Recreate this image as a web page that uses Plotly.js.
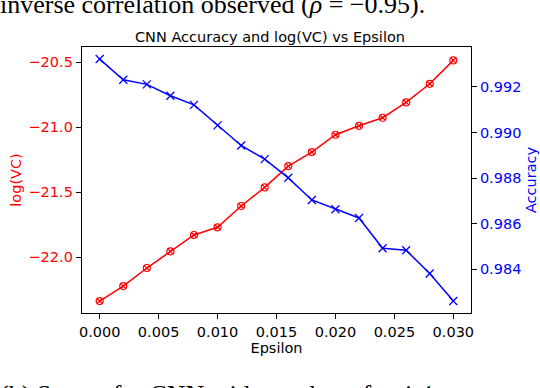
<!DOCTYPE html>
<html>
<head>
<meta charset="utf-8">
<script src="https://cdn.plot.ly/plotly-3.0.1.min.js"></script>
<style>
  body { margin: 0; padding: 0; background: #fff; }
  #chart { width: 540px; height: 388px; }
</style>
</head>
<body>
<div id="chart"></div>
<script>
// epsilon values used for the attack
var epsilon = [0.000, 0.002, 0.004, 0.006, 0.008, 0.010, 0.012, 0.014,
               0.016, 0.018, 0.020, 0.022, 0.024, 0.026, 0.028, 0.030];

// log(VC) per epsilon (left axis)
var logVC = [-22.336, -22.221, -22.082, -21.954, -21.828, -21.769, -21.605, -21.462,
             -21.298, -21.190, -21.057, -20.988, -20.926, -20.808, -20.665, -20.485];

// CNN accuracy per epsilon (right axis)
var accuracy = [0.99322, 0.99231, 0.99211, 0.99161, 0.99121, 0.99031, 0.98943, 0.98883,
                0.98801, 0.98704, 0.98663, 0.98625, 0.98492, 0.98483, 0.98381, 0.98261];

var leftTicks = [-22.0, -21.5, -21.0, -20.5];
var rightTicks = [0.984, 0.986, 0.988, 0.990, 0.992];
var xTicks = [0.000, 0.005, 0.010, 0.015, 0.020, 0.025, 0.030];

var fnt = 'DejaVu Sans, sans-serif';

var trace1 = {
  x: epsilon,
  y: logVC,
  name: 'log(VC)',
  type: 'scatter',
  mode: 'lines+markers',
  line: {color: '#ff0000', width: 1.5},
  marker: {symbol: 'circle-x-open', size: 7, color: '#ff0000', line: {width: 1.2}},
  yaxis: 'y'
};

var trace2 = {
  x: epsilon,
  y: accuracy,
  name: 'Accuracy',
  type: 'scatter',
  mode: 'lines+markers',
  line: {color: '#0000ff', width: 1.5},
  marker: {symbol: 'x-thin-open', size: 8, color: '#0000ff', line: {width: 1.3, color: '#0000ff'}},
  yaxis: 'y2'
};

var layout = {
  width: 540,
  height: 388,
  margin: {l: 82, r: 69, t: 47, b: 75, pad: 0},
  paper_bgcolor: '#fff',
  plot_bgcolor: '#fff',
  showlegend: false,
  font: {family: fnt, size: 14.5, color: '#000'},
  title: {
    text: 'CNN Accuracy and log(VC) vs Epsilon',
    font: {family: fnt, size: 14.5, color: '#000'},
    x: 0.5, xanchor: 'center', y: 1 - 37 / 388, yanchor: 'middle'
  },
  xaxis: {
    range: [-0.0015, 0.0315],
    tickvals: xTicks,
    tickformat: '.3f',
    ticks: 'outside', ticklen: 5, tickwidth: 1, tickcolor: '#000',
    showline: true, mirror: true, linecolor: '#000', linewidth: 1.2,
    showgrid: false, zeroline: false,
    tickfont: {family: fnt, size: 14.5, color: '#000'},
    title: {text: 'Epsilon', font: {family: fnt, size: 14.5, color: '#000'}, standoff: 0}
  },
  yaxis: {
    range: [-22.428, -20.382],
    tickvals: leftTicks,
    tickformat: '.1f',
    ticks: 'outside', ticklen: 5, tickwidth: 1, tickcolor: '#000',
    showline: true, mirror: true, linecolor: '#000', linewidth: 1.2,
    showgrid: false, zeroline: false,
    tickfont: {family: fnt, size: 14.5, color: '#ff0000'},
    title: {text: 'log(VC)', font: {family: fnt, size: 14.5, color: '#ff0000'}, standoff: 3}
  },
  yaxis2: {
    range: [0.98208, 0.99375],
    tickvals: rightTicks,
    tickformat: '.3f',
    overlaying: 'y',
    side: 'right',
    anchor: 'x',
    ticks: 'outside', ticklen: 5, tickwidth: 1, tickcolor: '#000',
    showline: false,
    showgrid: false, zeroline: false,
    tickfont: {family: fnt, size: 14.5, color: '#0000ff'},
    title: {text: 'Accuracy', font: {family: fnt, size: 14.5, color: '#0000ff'}, standoff: 5}
  },
  annotations: [
    {
      text: 'inverse correlation observed (<i>ρ</i> = −0.95).',
      xref: 'paper', yref: 'paper',
      x: -84 / 389, xanchor: 'left',
      y: (313 - 5) / 266, yanchor: 'middle',
      showarrow: false,
      font: {family: 'Liberation Serif, serif', size: 26, color: '#000'}
    },
    {
      text: '(b) Scores for CNN with number of training',
      xref: 'paper', yref: 'paper',
      x: -84 / 389, xanchor: 'left',
      y: (313 - 378) / 266, yanchor: 'top',
      showarrow: false,
      font: {family: 'Liberation Serif, serif', size: 26, color: '#000'}
    }
  ]
};

Plotly.newPlot('chart', [trace1, trace2], layout, {displayModeBar: false, staticPlot: true});
</script>
</body>
</html>
